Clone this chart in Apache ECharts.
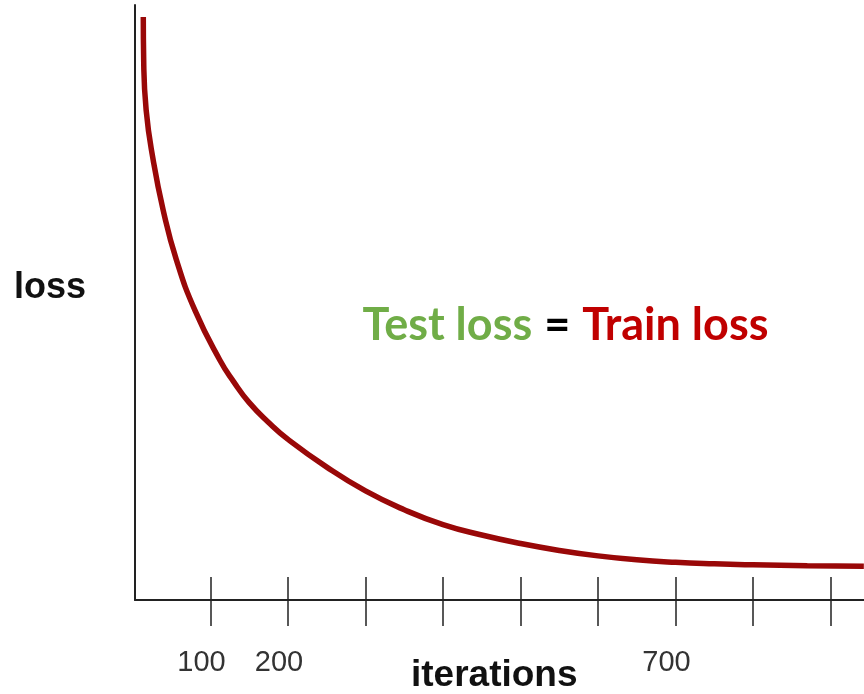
<!DOCTYPE html>
<html>
<head>
<meta charset="utf-8">
<title>Test loss = Train loss</title>
<script src="https://cdn.jsdelivr.net/npm/echarts@6/dist/echarts.min.js"></script>
<style>
  html, body { margin: 0; padding: 0; background: #fff; }
  #chart { width: 864px; height: 694px; }
</style>
</head>
<body>
<div id="chart"></div>
<script>
// Loss curve sampled along training
const iterations = [13.3, 13.8, 17, 26, 39, 56, 80, 112, 130, 150, 175, 200, 250, 300, 350, 400, 450, 500, 550, 600, 650, 700, 750, 800, 870, 943];
const lossValues = [5.88, 5.45, 4.94, 4.44, 3.93, 3.43, 2.92, 2.42, 2.20, 1.99, 1.79, 1.62, 1.34, 1.10, 0.91, 0.76, 0.655, 0.57, 0.50, 0.445, 0.405, 0.38, 0.365, 0.355, 0.345, 0.34];

// Axis tick marks and the few labelled ones
const tickValues = [100, 200, 300, 400, 500, 600, 700, 800, 900];
const tickLabels = [100, 200, 700];

const curve = iterations.map((it, i) => [it, lossValues[i]]);

const chart = echarts.init(document.getElementById('chart'), null, { renderer: 'canvas' });

const baseX = {
  type: 'value',
  position: 'bottom',
  min: 2.6,
  max: 943.2,
  splitLine: { show: false }
};

chart.setOption({
  animation: false,
  backgroundColor: '#ffffff',
  grid: { left: 135, right: 0, top: 5, bottom: 94 },
  xAxis: [
    Object.assign({}, baseX, {
      axisLine: { show: true, lineStyle: { color: '#222', width: 2 } },
      axisTick: {
        show: true, inside: true, length: 23,
        customValues: tickValues,
        lineStyle: { color: '#222', width: 1.5 }
      },
      axisLabel: {
        show: true,
        customValues: tickLabels,
        margin: 48,
        padding: [0, 18, 0, 0],
        fontFamily: 'Liberation Sans, Arial, sans-serif',
        fontSize: 29,
        color: '#333'
      }
    }),
    Object.assign({}, baseX, {
      offset: 0,
      axisLine: { show: false },
      axisTick: {
        show: true, inside: false, length: 26,
        customValues: tickValues,
        lineStyle: { color: '#222', width: 1.5 }
      },
      axisLabel: { show: false }
    })
  ],
  yAxis: {
    type: 'value',
    min: 0,
    max: 6,
    axisLine: { show: true, lineStyle: { color: '#222', width: 2 } },
    axisTick: { show: false },
    axisLabel: { show: false },
    splitLine: { show: false }
  },
  series: [{
    type: 'line',
    xAxisIndex: 0,
    data: curve,
    smooth: 0.5,
    showSymbol: false,
    clip: true,
    lineStyle: { color: '#990808', width: 5.5, cap: 'butt' }
  }],
  graphic: [
    {
      type: 'text',
      left: 14, top: 270,
      style: {
        text: 'loss',
        font: 'bold 36px "Liberation Sans", Arial, sans-serif',
        fill: '#111'
      }
    },
    {
      type: 'text',
      left: 411, top: 657,
      style: {
        text: 'iterations',
        font: 'bold 37px "Liberation Sans", Arial, sans-serif',
        fill: '#111'
      }
    },
    {
      type: 'text',
      x: 565.5, y: 325,
      style: {
        text: '{g|Test loss}{k|=}{r|Train loss}',
        align: 'center',
        verticalAlign: 'middle',
        rich: {
          g: { fontFamily: 'Lato', fontWeight: 'bold', fontSize: 45, fill: '#70ad47' },
          k: { fontFamily: 'Lato', fontWeight: 'bold', fontSize: 45, fill: '#000', padding: [0, 12, 0, 12] },
          r: { fontFamily: 'Lato', fontWeight: 'bold', fontSize: 45, fill: '#c00000' }
        }
      }
    }
  ]
});
</script>
</body>
</html>
